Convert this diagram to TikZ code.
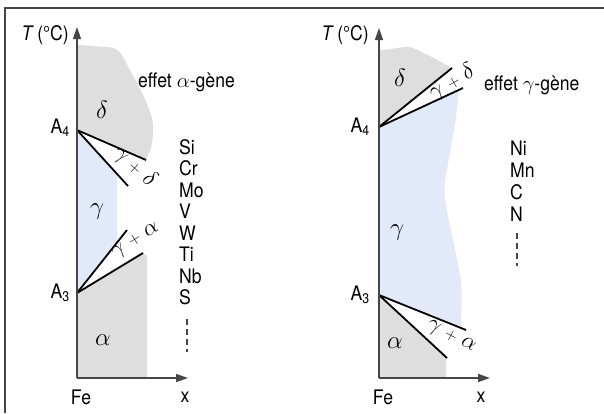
\documentclass[tikz,border=0pt]{standalone}
\usepackage{fontspec}
\setmainfont{TeX Gyre Heros}[FakeStretch=0.88]
\usepackage{xcolor}
\usetikzlibrary{arrows.meta}

\definecolor{phasegray}{RGB}{222,222,222}
\definecolor{phaseblue}{RGB}{226,234,249}
\definecolor{axisgray}{RGB}{70,70,70}

\begin{document}
\begin{tikzpicture}[x=1pt, y=-1pt,
  axis/.style={draw=axisgray, line width=1.4pt, -{Triangle[length=12pt,width=8pt]}},
  border/.style={draw=axisgray, line width=1.2pt},
  phase/.style={draw=black, line width=1.8pt},
  gzone/.style={fill=phasegray},
  bzone/.style={fill=phaseblue},
  txt/.style={font=\fontsize{20}{24}\selectfont, inner sep=0pt},
  greek/.style={font=\fontsize{23}{26}\selectfont, inner sep=0pt},
  mix/.style={font=\fontsize{20}{24}\selectfont, inner sep=0pt, scale=1.12},
  elem/.style={txt, anchor=west},
  dots/.style={draw=axisgray, line width=1.3pt, dash pattern=on 6pt off 4pt}
]
  \useasboundingbox (0,0) rectangle (604,413);
  \draw[border] (5,413) -- (5,8) -- (604,8);

  % alpha-gene side (left diagram)
  \coordinate (O1) at (77,378);
  \coordinate (T1) at (77,27);
  \coordinate (X1) at (188,378);
  \coordinate (A4p1) at (77,130);
  \coordinate (A3p1) at (77,293);
  \coordinate (gd1) at (146,160);
  \coordinate (dg1) at (128,186);
  \coordinate (ga1) at (127,230);
  \coordinate (ag1) at (143,253);

  \fill[gzone] (77,45) to[out=0, in=180] (108,47) to[out=0, in=120] (131,72)
    to[out=-60, in=110] (150,112) to[out=-70, in=80] (151,148) -- (gd1) -- (A4p1) -- cycle;
  \fill[bzone] (A4p1) -- (117,174) -- (117,243) -- (A3p1) -- cycle;
  \fill[gzone] (A3p1) -- (ag1) -- (147,256) -- (147,378) -- (O1) -- cycle;

  \draw[phase] (A4p1) -- (gd1);
  \draw[phase] (A4p1) -- (dg1);
  \draw[phase] (A3p1) -- (ga1);
  \draw[phase] (A3p1) -- (ag1);

  \draw[axis] (O1) -- (T1);
  \draw[axis] (O1) -- (X1);

  \node[txt, anchor=east] (T1lab) at (69,35) {\textit{T}\,(°C)};
  \node[txt, anchor=east] (A4lab1) at (70,128) {A\textsubscript{4}};
  \node[txt, anchor=east] (A3lab1) at (70,293) {A\textsubscript{3}};
  \node[txt] (Fe1) at (81,397) {Fe};
  \node[txt] (x1) at (185,397) {x};

  \node[greek] (delta1) at (102,110) {$\delta$};
  \node[greek] (gamma1) at (97,212) {$\gamma$};
  \node[greek] (alpha1) at (103,340) {$\alpha$};
  \node[mix, rotate=-42] (gd1lab) at (135,167) {$\gamma\;{\scriptstyle+}\;\delta$};
  \node[mix, rotate=32] (ga1lab) at (136,241) {$\gamma\;{\scriptstyle+}\;\alpha$};

  \node[elem] (eff1) at (138,82) {effet $\alpha$-gène};
  \node[elem] (Si) at (179,147) {Si};
  \node[elem] (Cr) at (179,168.5) {Cr};
  \node[elem] (Mo) at (179,190) {Mo};
  \node[elem] (V) at (179,211.5) {V};
  \node[elem] (W) at (179,233) {W};
  \node[elem] (Ti) at (179,254.5) {Ti};
  \node[elem] (Nb) at (179,276) {Nb};
  \node[elem] (S) at (179,297.5) {S};
  \draw[dots] (187,319) -- (187,352);

  % gamma-gene side (right diagram)
  \coordinate (O2) at (379,378);
  \coordinate (T2) at (379,28);
  \coordinate (X2) at (490,378);
  \coordinate (A4p2) at (379,127);
  \coordinate (A3p2) at (379,295);
  \coordinate (gd2) at (452,68);
  \coordinate (dg2) at (463,88);
  \coordinate (ga2) at (466,330);
  \coordinate (ag2) at (447,358);

  \fill[gzone] (379,50) to[out=0, in=185] (405,47) to[out=5, in=160] (428,55)
    -- (gd2) -- (A4p2) -- cycle;
  \fill[bzone] (A4p2) -- (459,90) to[out=-95, in=80] (446,175)
    to[out=-100, in=100] (446,205) to[out=-80, in=100] (460,275)
    to[out=-80, in=95] (462,328) -- (A3p2) -- cycle;
  \fill[gzone] (A3p2) -- (ag2) -- (446,358) -- (446,378) -- (O2) -- cycle;

  \draw[phase] (A4p2) -- (gd2);
  \draw[phase] (A4p2) -- (dg2);
  \draw[phase] (A3p2) -- (ga2);
  \draw[phase] (A3p2) -- (ag2);

  \draw[axis] (O2) -- (T2);
  \draw[axis] (O2) -- (X2);

  \node[txt, anchor=east] (T2lab) at (369,35) {\textit{T}\,(°C)};
  \node[txt, anchor=east] (A4lab2) at (370,127) {A\textsubscript{4}};
  \node[txt, anchor=east] (A3lab2) at (370,295) {A\textsubscript{3}};
  \node[txt] (Fe2) at (383,397) {Fe};
  \node[txt] (x2) at (481,397) {x};

  \node[greek] (delta2) at (400,78) {$\delta$};
  \node[greek] (gamma2) at (397,233) {$\gamma$};
  \node[greek] (alpha2) at (395,343) {$\alpha$};
  \node[mix, rotate=30] (gd2lab) at (452,82) {$\gamma\;{\scriptstyle+}\;\delta$};
  \node[mix, rotate=-28] (ga2lab) at (451,337) {$\gamma\;{\scriptstyle+}\;\alpha$};

  \node[elem] (eff2) at (484,85) {effet $\gamma$-gène};
  \node[elem] (Ni) at (510,148) {Ni};
  \node[elem] (Mn) at (510,170) {Mn};
  \node[elem] (C) at (510,192) {C};
  \node[elem] (N) at (510,214) {N};
  \draw[dots] (517,233) -- (517,266);
\end{tikzpicture}
\end{document}
